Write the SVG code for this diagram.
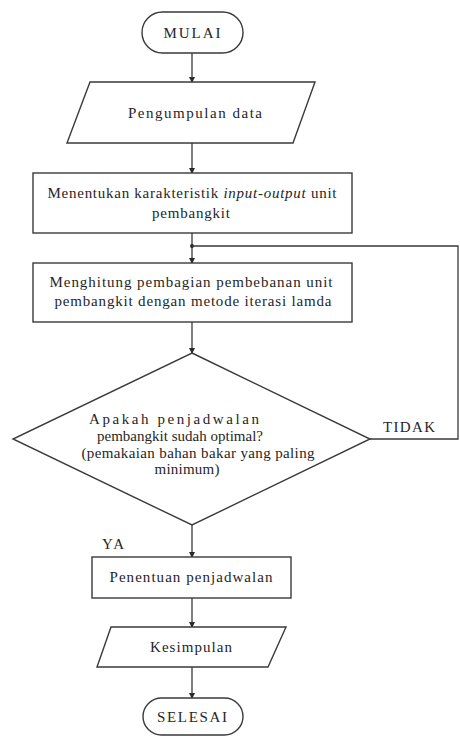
<svg xmlns="http://www.w3.org/2000/svg" width="460" height="737" viewBox="0 0 460 737">
<defs>
<style>
.s{fill:#fff;stroke:#3a3a3a;stroke-width:1.4}
.c{fill:none;stroke:#3a3a3a;stroke-width:1.3}
text{font-family:'Liberation Serif','Times New Roman','DejaVu Serif',serif;font-size:15px;fill:#262626}
.t{text-anchor:middle}
</style>
<marker id="ah" markerWidth="6" markerHeight="6" refX="5" refY="3" orient="auto" markerUnits="userSpaceOnUse">
<path d="M0,0 L6,3 L0,6 Z" fill="#2a2a2a"/>
</marker>
</defs>
<rect width="460" height="737" fill="#fff"/>
<g id="connectors">
<line class="c" x1="192" y1="53" x2="192" y2="82" marker-end="url(#ah)"/>
<line class="c" x1="192" y1="143" x2="192" y2="173" marker-end="url(#ah)"/>
<line class="c" x1="192" y1="233" x2="192" y2="263" marker-end="url(#ah)"/>
<circle cx="192" cy="246" r="2" fill="#2a2a2a"/>
<polyline class="c" points="370,439 458,439 458,246 192,246"/>
<line class="c" x1="192" y1="322" x2="192" y2="353" marker-end="url(#ah)"/>
<line class="c" x1="192" y1="525" x2="192" y2="557" marker-end="url(#ah)"/>
<line class="c" x1="192" y1="598" x2="192" y2="627" marker-end="url(#ah)"/>
<line class="c" x1="192" y1="667" x2="192" y2="698" marker-end="url(#ah)"/>
<text x="383" y="432" textLength="52">TIDAK</text>
<text x="102" y="549" textLength="22">YA</text>
</g>
<g id="mulai">
<rect class="s" x="142" y="12" width="101" height="41" rx="20.5"/>
<text class="t" x="192" y="38" textLength="57">MULAI</text>
</g>
<g id="pengumpulan">
<polygon class="s" points="90,82 315,82 293,143 67,143"/>
<text class="t" x="195" y="118" textLength="134">Pengumpulan data</text>
</g>
<g id="menentukan">
<rect class="s" x="33" y="173" width="319" height="60"/>
<text class="t" x="192" y="198" textLength="289">Menentukan karakteristik <tspan font-style="italic">input-output</tspan> unit</text>
<text class="t" x="191" y="218" textLength="78">pembangkit</text>
</g>
<g id="menghitung">
<rect class="s" x="33" y="263" width="319" height="59"/>
<text class="t" x="191" y="287" textLength="283">Menghitung pembagian pembebanan unit</text>
<text class="t" x="193" y="306" textLength="277">pembangkit dengan metode iterasi lamda</text>
</g>
<g id="keputusan">
<polygon class="s" points="192,353 370,439 192,525 13,439"/>
<text class="t" x="174" y="424" textLength="170">Apakah penjadwalan</text>
<text class="t" x="180" y="441" textLength="166">pembangkit sudah optimal?</text>
<text class="t" x="198" y="458" textLength="233">(pemakaian bahan bakar yang paling</text>
<text class="t" x="187" y="474" textLength="65">minimum)</text>
</g>
<g id="penentuan">
<rect class="s" x="92" y="557" width="199" height="41"/>
<text class="t" x="191" y="582" textLength="163">Penentuan penjadwalan</text>
</g>
<g id="kesimpulan">
<polygon class="s" points="111,627 286,627 268,667 97,667"/>
<text class="t" x="191" y="652" textLength="82">Kesimpulan</text>
</g>
<g id="selesai">
<rect class="s" x="143" y="698" width="100" height="37" rx="18.5"/>
<text class="t" x="192" y="722" textLength="70">SELESAI</text>
</g>
</svg>
